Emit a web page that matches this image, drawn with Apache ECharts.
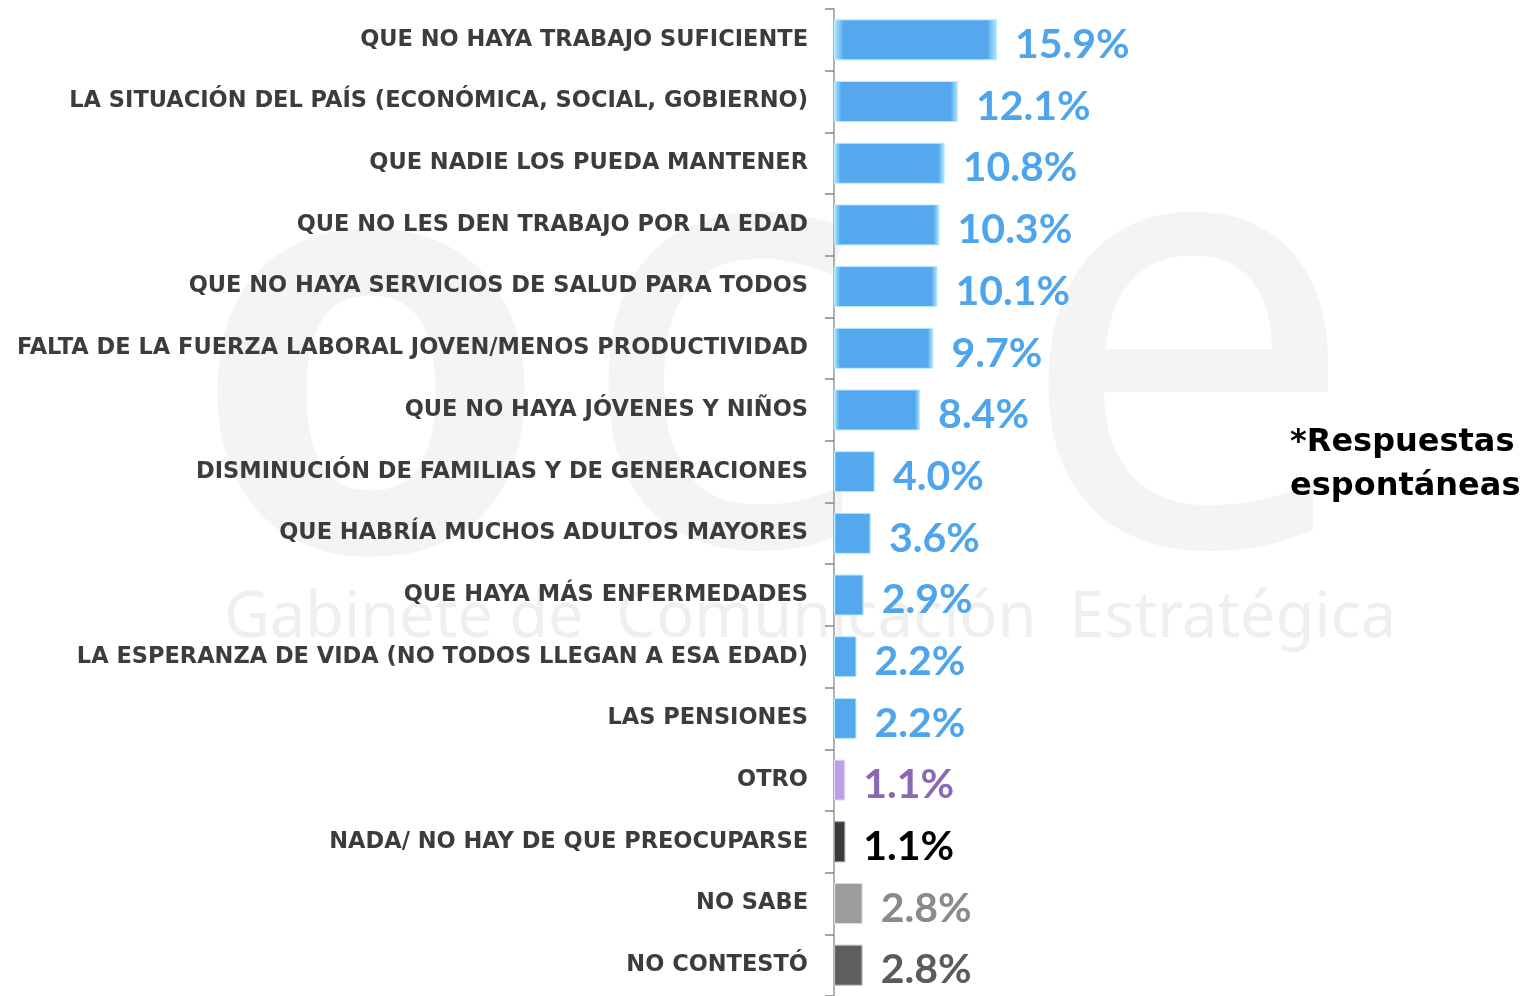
<!DOCTYPE html>
<html>
<head>
<meta charset="utf-8">
<script src="https://cdn.jsdelivr.net/npm/echarts@6/dist/echarts.min.js"></script>
<style>
  html,body{margin:0;padding:0;background:#fff;}
  #show{width:1533px;height:996px;}
</style>
</head>
<body>
<div id="show"></div>
<script>
    // datos
    var categorias = [
        'QUE NO HAYA TRABAJO SUFICIENTE',
        'LA SITUACIÓN DEL PAÍS (ECONÓMICA, SOCIAL, GOBIERNO)',
        'QUE NADIE LOS PUEDA MANTENER',
        'QUE NO LES DEN TRABAJO POR LA EDAD',
        'QUE NO HAYA SERVICIOS DE SALUD PARA TODOS',
        'FALTA DE LA FUERZA LABORAL JOVEN/MENOS PRODUCTIVIDAD',
        'QUE NO HAYA JÓVENES Y NIÑOS',
        'DISMINUCIÓN DE FAMILIAS Y DE GENERACIONES',
        'QUE HABRÍA MUCHOS ADULTOS MAYORES',
        'QUE HAYA MÁS ENFERMEDADES',
        'LA ESPERANZA DE VIDA (NO TODOS LLEGAN A ESA EDAD)',
        'LAS PENSIONES',
        'OTRO',
        'NADA/ NO HAY DE QUE PREOCUPARSE',
        'NO SABE',
        'NO CONTESTÓ'
    ];
    var valores = [15.9, 12.1, 10.8, 10.3, 10.1, 9.7, 8.4, 4.0, 3.6, 2.9, 2.2, 2.2, 1.1, 1.1, 2.8, 2.8];
    var tipos = ['s','s','s','s','s','s','s','s','s','s','s','s','otro','nada','ns','nc'];

    // colores por tipo: [borde claro, relleno, etiqueta]
    var estilos = {
        s:    ['#b8ecff', '#55a7ee', '#4ea5ec'],
        otro: ['#e6dbff', '#b9a2e6', '#8b68b2'],
        nada: ['#9a9a9a', '#3a3a3a', '#000000'],
        ns:   ['#dcdcdc', '#9c9c9c', '#8a8a8a'],
        nc:   ['#bdbdbd', '#5e5e5e', '#5b5b5b']
    };

    var myChart = echarts.init(document.getElementById('show'));

    var datos = [];
    for (var i = 0; i < valores.length; i++) {
        var e = estilos[tipos[i]];
        datos.push({
            value: valores[i],
            itemStyle: {
                color: new echarts.graphic.LinearGradient(0, 0, 1, 0, [
                    {offset: 0, color: e[0]},
                    {offset: 0.06, color: e[1]},
                    {offset: 0.94, color: e[1]},
                    {offset: 1, color: e[0]}
                ]),
                borderColor: e[0],
                borderWidth: 1
            },
            label: {color: e[2]}
        });
    }

    var marca = '#f4f4f4'; // marca de agua
    var option = {
        animation: false,
        backgroundColor: '#fff',
        graphic: [
            {
                type: 'text', x: 190, y: 676, z: -10,
                style: {text: 'o', font: 'bold 580px "Noto Sans"', fill: marca, verticalAlign: 'bottom'}
            },
            {
                type: 'text', x: 575, y: 676, z: -10,
                style: {text: 'c', font: '610px "Noto Sans"', fill: marca, verticalAlign: 'bottom'}
            },
            {
                type: 'text', x: 1015, y: 676, z: -10,
                style: {text: 'e', font: '610px "Noto Sans"', fill: marca, verticalAlign: 'bottom'}
            },
            {
                type: 'text', left: 224, top: 588, z: -10,
                style: {text: 'Gabinete de  Comunicación  Estratégica', font: '63px "Noto Sans"', fill: '#efefef'}
            },
            {
                type: 'text', left: 1290, top: 421,
                style: {text: '*Respuestas\nespontáneas', font: 'bold 32px "DejaVu Sans"', fill: '#000', lineHeight: 44}
            }
        ],
        grid: {left: 834, top: 9, width: 307.5, height: 992},
        xAxis: {
            type: 'value', min: 0, max: 30, show: false
        },
        yAxis: {
            type: 'category',
            inverse: true,
            data: categorias,
            axisLine: {lineStyle: {color: '#999', width: 1.5}},
            axisTick: {show: true, length: 9, lineStyle: {color: '#888', width: 1.5}},
            axisLabel: {
                margin: 26,
                padding: [4, 0, 0, 0],
                color: '#3c3c3c',
                fontFamily: 'DejaVu Sans',
                fontWeight: 'bold',
                fontSize: 22.5
            }
        },
        series: [{
            type: 'bar',
            barWidth: 41,
            data: datos,
            label: {
                show: true,
                position: 'right',
                distance: 18,
                offset: [0, 5],
                fontFamily: 'Lato',
                fontWeight: 'bold',
                fontSize: 41,
                formatter: function (p) { return p.value.toFixed(1) + '%'; }
            }
        }]
    };
    myChart.setOption(option);
</script>
</body>
</html>
